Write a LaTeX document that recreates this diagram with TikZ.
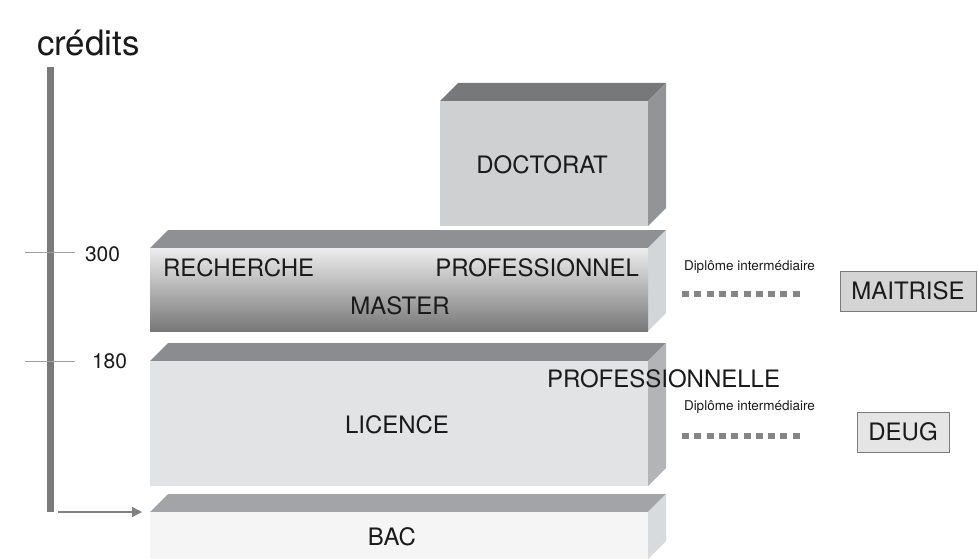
\documentclass[tikz,border=0pt]{standalone}
\usepackage{fontspec}
\setmainfont{TeX Gyre Heros}
\usetikzlibrary{arrows.meta}
\definecolor{txt}{HTML}{1A1A1A}
\definecolor{axisgray}{HTML}{7A7A7A}
\definecolor{tickgray}{HTML}{A0A0A0}
\definecolor{dotgray}{HTML}{858585}
\definecolor{docF}{HTML}{CFD0D2}\definecolor{docT}{HTML}{77787A}\definecolor{docS}{HTML}{939496}
\definecolor{masT}{HTML}{8F9093}\definecolor{masS}{HTML}{D4D5D6}
\definecolor{licF}{HTML}{E2E3E5}\definecolor{licT}{HTML}{8B8C8F}\definecolor{licS}{HTML}{B3B4B6}
\definecolor{bacF}{HTML}{F5F5F5}\definecolor{bacT}{HTML}{A2A4A7}\definecolor{bacS}{HTML}{D9DADC}
\newcommand\slabfaces[6]{% x1 y1 x2 y2 top side
  \fill[#5] (#1,#2) -- (#1+18,#2-18) -- (#3+18,#2-18) -- (#3,#2) -- cycle;
  \fill[#6] (#3,#2) -- (#3+18,#2-18) -- (#3+18,#4-18) -- (#3,#4) -- cycle;}
\begin{document}
\begin{tikzpicture}[x=1pt,y=-1pt,
  every node/.style={inner sep=0pt,outer sep=0pt,text=txt},
  face/.style={anchor=north west,draw=none},
  big/.style={font=\fontsize{24}{26}\selectfont},
  small/.style={font=\fontsize{13.5}{15}\selectfont},
  num/.style={font=\fontsize{21}{24}\selectfont},
  dotline/.style={dotgray,line width=6pt,dash pattern=on 7pt off 5.3pt},
  labbox/.style={draw=axisgray,line width=1pt,minimum height=40pt,big}]
\useasboundingbox (0,0) rectangle (978,559);
% title
\node[anchor=base west,font=\fontsize{35}{38}\selectfont] (credits) at (37,56) {crédits};
% axis
\coordinate (axtop) at (50.5,67);
\coordinate (axbot) at (50.5,512);
\draw[axisgray,line width=7pt] (axtop) -- (axbot);
\coordinate (t3a) at (25,252); \coordinate (t3b) at (75,252);
\coordinate (t1a) at (25,361); \coordinate (t1b) at (75,361);
\draw[tickgray,line width=1pt] (t3a) -- (t3b);
\draw[tickgray,line width=1pt] (t1a) -- (t1b);
\node[num,anchor=west] (n300) at (85,254) {300};
\node[num,anchor=west] (n180) at (92,361) {180};
% DOCTORAT
\slabfaces{440}{101}{648}{226}{docT}{docS}
\node[face,fill=docF,minimum width=208pt,minimum height=125pt] (doc) at (440,101) {};
\node[big] (doctxt) at (542,165) {DOCTORAT};
% MASTER
\slabfaces{150}{248}{648}{331}{masT}{masS}
\node[face,top color=white!93!black,bottom color=black!53,minimum width=498pt,minimum height=83pt] (master) at (150,248) {};
\node[big,anchor=west] (rech) at (163,268) {RECHERCHE};
\node[big,anchor=east] (prof) at (639,268) {PROFESSIONNEL};
\node[big] (mastxt) at (400,306) {MASTER};
% LICENCE
\slabfaces{150}{361}{648}{486}{licT}{licS}
\node[face,fill=licF,minimum width=498pt,minimum height=125pt] (lic) at (150,361) {};
\node[big] (lictxt) at (397,425) {LICENCE};
\node[big,anchor=west] (profle) at (547,379) {PROFESSIONNELLE};
% BAC
\slabfaces{150}{512}{648}{559}{bacT}{bacS}
\node[face,fill=bacF,minimum width=498pt,minimum height=47pt] (bac) at (150,512) {};
\node[big] (bactxt) at (392,537) {BAC};
% arrow
\coordinate (arrstart) at (58,512);
\draw[tickgray!80!black,line width=1.2pt,-{Triangle[length=10pt,width=10pt]},shorten >=8pt] (arrstart) -- (bac.north west);
% intermediate diplomas
\node[small,anchor=west] (dip1) at (684,267) {Diplôme intermédiaire};
\coordinate (d1a) at (682,294); \coordinate (d1b) at (800,294);
\draw[dotline] (d1a) -- (d1b);
\node[labbox,fill=black!17,minimum width=136pt] (mait) at (908,291) {MAITRISE};
\node[small,anchor=west] (dip2) at (684,407) {Diplôme intermédiaire};
\coordinate (d2a) at (682,436); \coordinate (d2b) at (800,436);
\draw[dotline] (d2a) -- (d2b);
\node[labbox,fill=black!10,minimum width=92pt] (deug) at (903,432) {DEUG};
\end{tikzpicture}
\end{document}
